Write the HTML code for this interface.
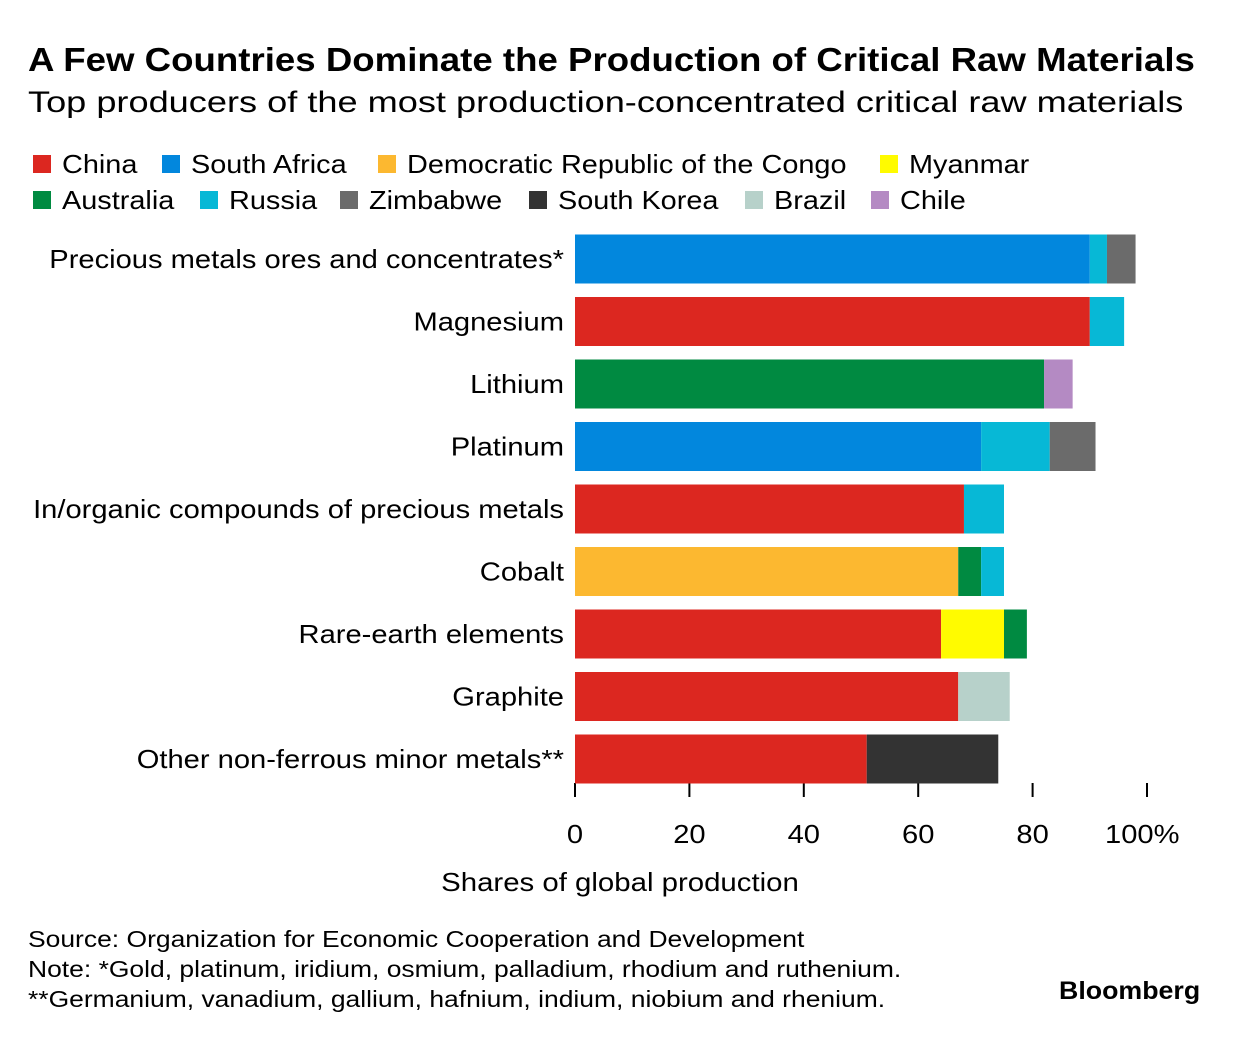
<!DOCTYPE html>
<html><head><meta charset="utf-8">
<style>
body{margin:0;background:#fff;font-family:"Liberation Sans",sans-serif;color:#000}
#wrap{position:relative;width:1240px;height:1038px;overflow:hidden}
.t{position:absolute;white-space:nowrap;transform-origin:0 0}
</style></head><body>
<div id="wrap">
<div class="t" style="left:28px;top:41px;font-size:33px;font-weight:bold;transform:scaleX(1.11)">A Few Countries Dominate the Production of Critical Raw Materials</div>
<div class="t" style="left:28px;top:86px;font-size:30px;transform:scaleX(1.205)">Top producers of the most production-concentrated critical raw materials</div>
<svg id="svg" width="1240" height="1038" style="position:absolute;left:0;top:0"></svg>
<div class="t" style="left:28px;top:924px;font-size:23px;line-height:30px;transform:scaleX(1.15)">Source: Organization for Economic Cooperation and Development<br>Note: *Gold, platinum, iridium, osmium, palladium, rhodium and ruthenium.<br>**Germanium, vanadium, gallium, hafnium, indium, niobium and rhenium.</div>
<div class="t" style="left:1059px;top:977px;font-size:25px;font-weight:bold;transform:scaleX(1.07)">Bloomberg</div>
</div>
<script>
const categories=["Precious metals ores and concentrates*","Magnesium","Lithium","Platinum","In/organic compounds of precious metals","Cobalt","Rare-earth elements","Graphite","Other non-ferrous minor metals**"];
const countries=["China","South Africa","Democratic Republic of the Congo","Myanmar","Australia","Russia","Zimbabwe","South Korea","Brazil","Chile"];
const colors={"China":"#dc2720","South Africa":"#0287dd","Democratic Republic of the Congo":"#fcb830","Myanmar":"#fffb00","Australia":"#008a41","Russia":"#07b8d6","Zimbabwe":"#6b6b6b","South Korea":"#333333","Brazil":"#b7d1ca","Chile":"#b48ac3"};
const segCountries=[["South Africa","Russia","Zimbabwe"],["China","Russia"],["Australia","Chile"],["South Africa","Russia","Zimbabwe"],["China","Russia"],["Democratic Republic of the Congo","Australia","Russia"],["China","Myanmar","Australia"],["China","Brazil"],["China","South Korea"]];
const segValues=[[90,3,5],[90,6],[82,5],[71,12,8],[68,7],[67,4,4],[64,11,4],[67,9],[51,23]];
const ticks=[0,20,40,60,80,100];
const svg=document.getElementById('svg');const NS="http://www.w3.org/2000/svg";
const x=v=>575+v*5.72;const yc=i=>259+i*62.5;
function mk(tag,attrs){const e=document.createElementNS(NS,tag);for(const k in attrs)e.setAttribute(k,attrs[k]);svg.appendChild(e);return e;}
function stretch(t,r){const L=t.getComputedTextLength();t.setAttribute('textLength',L*r);t.setAttribute('lengthAdjust','spacingAndGlyphs');}
const legRows=[[["China",33],["South Africa",162],["Democratic Republic of the Congo",378],["Myanmar",880]],[["Australia",33],["Russia",200],["Zimbabwe",340],["South Korea",529],["Brazil",745],["Chile",871]]];
legRows.forEach((row,r)=>row.forEach(([c,lx])=>{
 const sw=mk('rect',{x:lx,y:155+r*36,width:18,height:18,fill:colors[c]});
 
 const t=mk('text',{x:lx+29,y:173+r*36,'font-size':26});t.textContent=c;
 
 stretch(t,1.11);
}));
ticks.forEach(v=>{
 const l=mk('line',{x1:x(v),x2:x(v),y1:783,y2:797,stroke:'#000','stroke-width':2});
 
 const t=mk('text',{x:x(v)+(v==100?-42:0),y:843,'font-size':26,'text-anchor':v==100?'start':'middle'});
 t.textContent=v==100?'100%':v;
 
 stretch(t,1.12);
});
const at=mk('text',{x:620,y:891,'font-size':26,'text-anchor':'middle'});at.textContent='Shares of global production';

stretch(at,1.13);
categories.forEach((c,i)=>{
 const lab=mk('text',{x:564,y:yc(i)+9,'font-size':26,'text-anchor':'end'});lab.textContent=c;
 
 stretch(lab,1.12);
 let acc=0;
 segValues[i].forEach((v,j)=>{
  const r=mk('rect',{x:x(acc),y:yc(i)-24.5,width:v*5.72,height:49,fill:colors[segCountries[i][j]]});
  
  acc+=v;
 });
});
</script>
</body></html>
